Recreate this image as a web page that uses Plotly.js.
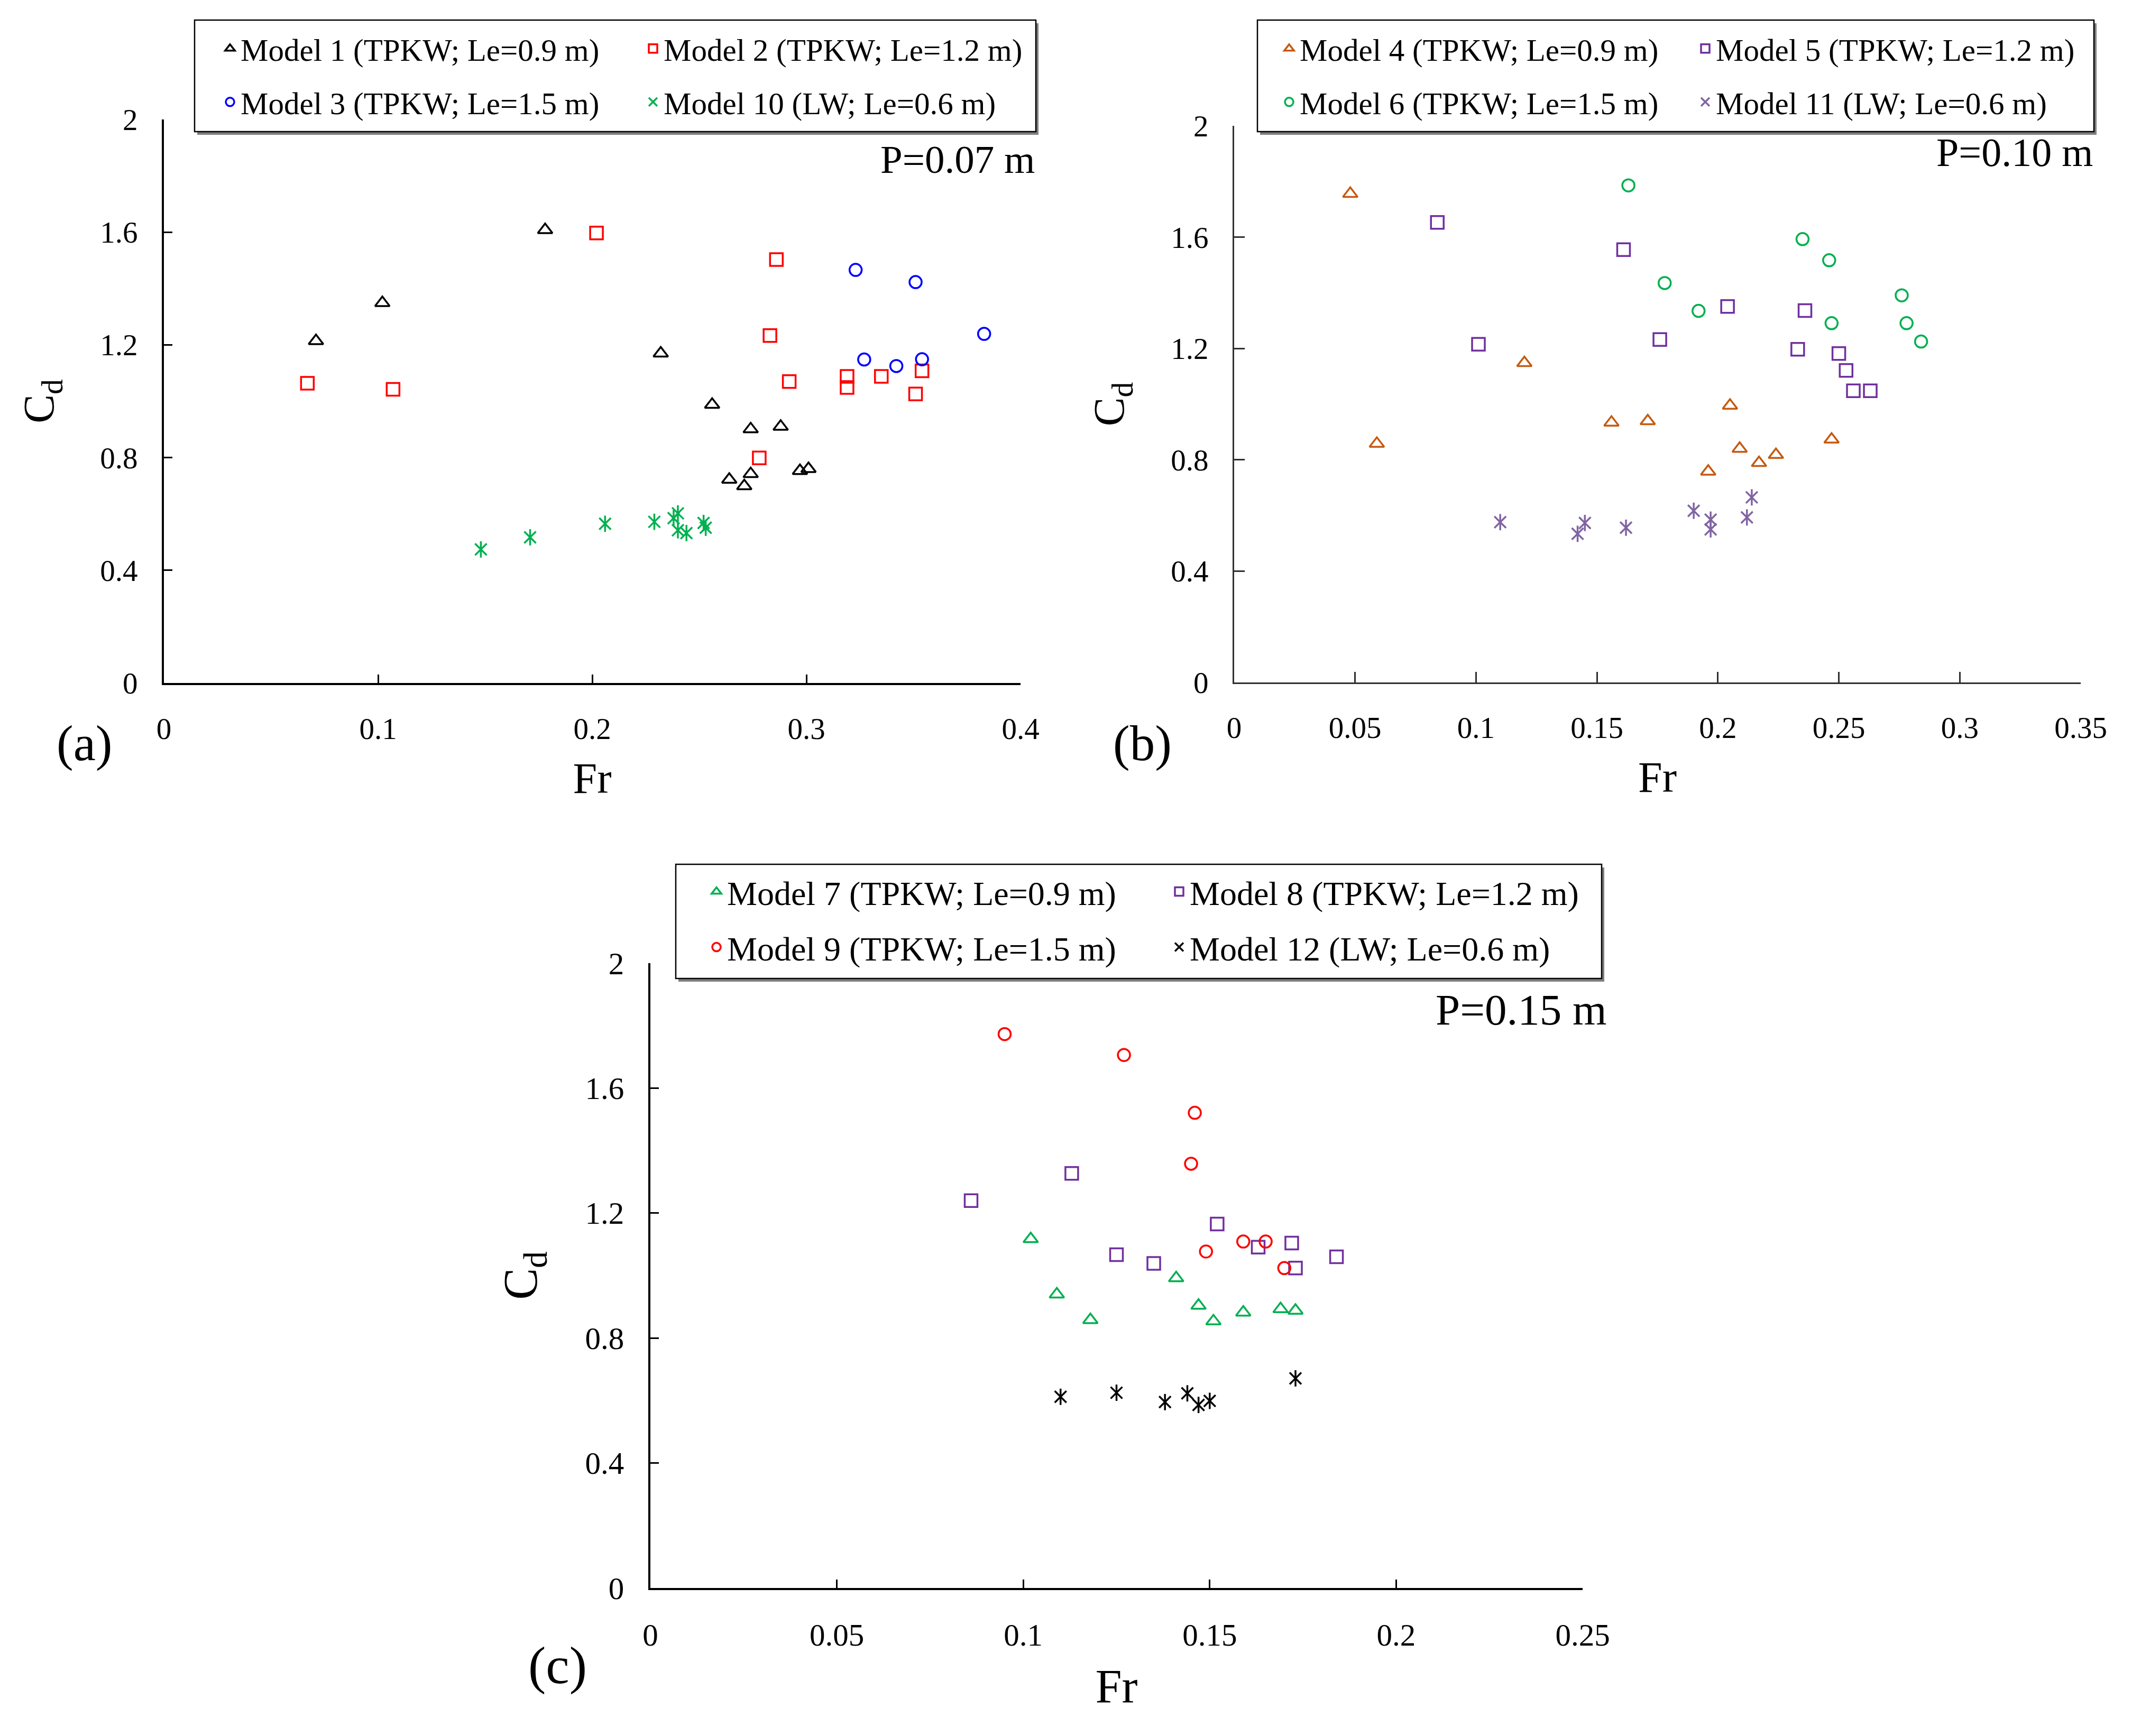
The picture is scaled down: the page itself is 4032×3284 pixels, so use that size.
<!DOCTYPE html>
<html>
<head>
<meta charset="utf-8">
<script src="https://cdn.plot.ly/plotly-3.0.1.min.js"></script>
<style>
    html, body { margin: 0; padding: 0; background: #ffffff; }
    #chart { width: 4032px; height: 3284px; }
</style>
</head>
<body>
<div id="chart"></div>
<script>
// ---- values (Fr, Cd) ----
// (a) P = 0.07 m
const m1Fr = [0.071, 0.102, 0.178, 0.232, 0.256, 0.274, 0.288, 0.264, 0.271, 0.274, 0.297, 0.301];
const m1Cd = [1.214, 1.349, 1.608, 1.170, 0.988, 0.901, 0.910, 0.722, 0.699, 0.742, 0.753, 0.760];
const m2Fr = [0.067, 0.107, 0.202, 0.286, 0.283, 0.292, 0.278, 0.319, 0.319, 0.335, 0.351, 0.354];
const m2Cd = [1.064, 1.042, 1.597, 1.503, 1.233, 1.070, 0.799, 1.088, 1.049, 1.088, 1.026, 1.108];
const m3Fr = [0.323, 0.351, 0.383, 0.327, 0.342, 0.354];
const m3Cd = [1.466, 1.423, 1.239, 1.148, 1.125, 1.149];
const m10Fr = [0.148, 0.171, 0.206, 0.229, 0.238, 0.240, 0.240, 0.244, 0.252, 0.253];
const m10Cd = [0.474, 0.517, 0.565, 0.572, 0.585, 0.602, 0.542, 0.532, 0.568, 0.551];

// (b) P = 0.10 m
const m4Fr = [0.048, 0.059, 0.120, 0.156, 0.171, 0.205, 0.209, 0.217, 0.224, 0.196, 0.247];
const m4Cd = [1.756, 0.858, 1.148, 0.934, 0.939, 0.995, 0.840, 0.789, 0.818, 0.758, 0.873];
const m5Fr = [0.084, 0.101, 0.161, 0.176, 0.204, 0.236, 0.233, 0.250, 0.253, 0.256, 0.263];
const m5Cd = [1.653, 1.215, 1.555, 1.232, 1.351, 1.336, 1.197, 1.182, 1.121, 1.048, 1.048];
const m6Fr = [0.163, 0.178, 0.192, 0.235, 0.246, 0.247, 0.276, 0.278, 0.284];
const m6Cd = [1.786, 1.435, 1.335, 1.593, 1.517, 1.291, 1.391, 1.291, 1.225];
const m11Fr = [0.110, 0.142, 0.145, 0.162, 0.190, 0.197, 0.197, 0.212, 0.214];
const m11Cd = [0.576, 0.534, 0.573, 0.556, 0.617, 0.585, 0.550, 0.593, 0.665];

// (c) P = 0.15 m
const m7Fr = [0.102, 0.109, 0.118, 0.141, 0.147, 0.151, 0.159, 0.169, 0.173];
const m7Cd = [1.117, 0.940, 0.858, 0.992, 0.904, 0.854, 0.882, 0.893, 0.888];
const m8Fr = [0.086, 0.113, 0.125, 0.135, 0.152, 0.163, 0.172, 0.173, 0.184];
const m8Cd = [1.240, 1.327, 1.067, 1.039, 1.165, 1.091, 1.104, 1.024, 1.060];
const m9Fr = [0.095, 0.127, 0.146, 0.145, 0.149, 0.159, 0.165, 0.170];
const m9Cd = [1.773, 1.706, 1.521, 1.358, 1.077, 1.109, 1.109, 1.024];
const m12Fr = [0.110, 0.125, 0.138, 0.144, 0.147, 0.150, 0.173];
const m12Cd = [0.612, 0.625, 0.595, 0.623, 0.586, 0.599, 0.671];

// tick values and labels
const frTicksA = [0, 0.1, 0.2, 0.3, 0.4];
const frLabelsA = ['0', '0.1', '0.2', '0.3', '0.4'];
const frTicksB = [0, 0.05, 0.1, 0.15, 0.2, 0.25, 0.3, 0.35];
const frLabelsB = ['0', '0.05', '0.1', '0.15', '0.2', '0.25', '0.3', '0.35'];
const frTicksC = [0, 0.05, 0.1, 0.15, 0.2, 0.25];
const frLabelsC = ['0', '0.05', '0.1', '0.15', '0.2', '0.25'];
const cdTicks = [0, 0.4, 0.8, 1.2, 1.6, 2];
const cdLabels = ['0', '0.4', '0.8', '1.2', '1.6', '2'];

const panelTags = ['(a)', '(b)', '(c)'];
const depthLabels = ['P=0.07 m', 'P=0.10 m', 'P=0.15 m'];

// ---- page geometry (pixels of the 4032 x 3284 canvas) ----
const W = 4032, H = 3284;
const px = x => x / W;
const py = y => 1 - y / H;
const serif = '"Liberation Serif", "Times New Roman", serif';

// colours used in the figure
const BLACK = '#000000', RED = '#ff0000', BLUE = '#0000ff', GREEN = '#00b050';
const BROWN = '#c55a11', PURPLE = '#7030a0', LAVENDER = '#8064a2';

// one entry per model: panel, column and row inside its legend box
const series = [
    {name: 'Model 1 (TPKW; Le=0.9 m)', x: m1Fr, y: m1Cd, color: BLACK, sym: 'tri', p: 0, col: 0, row: 0},
    {name: 'Model 2 (TPKW; Le=1.2 m)', x: m2Fr, y: m2Cd, color: RED, sym: 'sq', p: 0, col: 1, row: 0},
    {name: 'Model 3 (TPKW; Le=1.5 m)', x: m3Fr, y: m3Cd, color: BLUE, sym: 'ci', p: 0, col: 0, row: 1},
    {name: 'Model 10 (LW; Le=0.6 m)', x: m10Fr, y: m10Cd, color: GREEN, sym: 'st', p: 0, col: 1, row: 1},
    {name: 'Model 4 (TPKW; Le=0.9 m)', x: m4Fr, y: m4Cd, color: BROWN, sym: 'tri', p: 1, col: 0, row: 0},
    {name: 'Model 5 (TPKW; Le=1.2 m)', x: m5Fr, y: m5Cd, color: PURPLE, sym: 'sq', p: 1, col: 1, row: 0},
    {name: 'Model 6 (TPKW; Le=1.5 m)', x: m6Fr, y: m6Cd, color: GREEN, sym: 'ci', p: 1, col: 0, row: 1},
    {name: 'Model 11 (LW; Le=0.6 m)', x: m11Fr, y: m11Cd, color: LAVENDER, sym: 'st', p: 1, col: 1, row: 1},
    {name: 'Model 7 (TPKW; Le=0.9 m)', x: m7Fr, y: m7Cd, color: GREEN, sym: 'tri', p: 2, col: 0, row: 0},
    {name: 'Model 8 (TPKW; Le=1.2 m)', x: m8Fr, y: m8Cd, color: PURPLE, sym: 'sq', p: 2, col: 1, row: 0},
    {name: 'Model 9 (TPKW; Le=1.5 m)', x: m9Fr, y: m9Cd, color: RED, sym: 'ci', p: 2, col: 0, row: 1},
    {name: 'Model 12 (LW; Le=0.6 m)', x: m12Fr, y: m12Cd, color: BLACK, sym: 'st', p: 2, col: 1, row: 1}
];

const symbols = {
    tri: {symbol: 'triangle-up-open', size: 24},
    sq: {symbol: 'square-open', size: 24},
    ci: {symbol: 'circle-open', size: 23},
    st: {symbol: 'x-thin-open', size: 22}
};

// panel boxes, legend boxes and text spots
const panels = [
    {plot: [310, 1930, 226, 1292], box: [368, 1959, 38, 249], cols: [455, 1255], rows: [92, 193],
     legFont: 59, tickFont: 57, titleFont: 82, line: 4, tickLen: 16, color: BLACK,
     depth: [1959, 301, 75], tag: [159, 1406, 95]},
    {plot: [2334, 3935, 238, 1291], box: [2378, 3960, 38, 249], cols: [2458, 3245], rows: [92, 193],
     legFont: 59, tickFont: 57, titleFont: 82, line: 3, tickLen: 20, color: '#303030',
     depth: [3960, 288, 76], tag: [2160, 1406, 95]},
    {plot: [1230, 2993, 1822, 3004], box: [1278, 3029, 1635, 1851], cols: [1375, 2250], rows: [1687, 1792],
     legFont: 64, tickFont: 59, titleFont: 90, line: 4, tickLen: 16, color: BLACK,
     depth: [3041, 1910, 83], tag: [1054, 3150, 100]}
];
const frTicks = [[frTicksA, frLabelsA], [frTicksB, frLabelsB], [frTicksC, frLabelsC]];
const frRanges = [[0, 0.4], [0, 0.35], [0, 0.25]];

const data = [];
const layout = {
    width: W, height: H,
    margin: {l: 0, r: 0, t: 0, b: 0},
    paper_bgcolor: '#ffffff',
    plot_bgcolor: 'rgba(0,0,0,0)',
    font: {family: serif, color: '#000000'},
    showlegend: true,
    annotations: [],
    shapes: []
};

series.forEach((s, i) => {
    const suffix = s.p === 0 ? '' : String(s.p + 1);
    const legId = i === 0 ? 'legend' : 'legend' + (i + 1);
    const mk = symbols[s.sym];
    data.push({
        type: 'scatter', mode: 'markers', name: s.name,
        x: s.x, y: s.y, xaxis: 'x' + suffix, yaxis: 'y' + suffix, legend: legId,
        marker: {symbol: mk.symbol, size: mk.size, color: s.color, line: {color: s.color, width: 3.5}},
        hoverinfo: 'x+y+name'
    });
    if (s.sym === 'st') {
        // vertical bar that turns the X into the six-armed star of the figure
        data.push({
            type: 'scatter', mode: 'markers', name: s.name, showlegend: false,
            x: s.x, y: s.y, xaxis: 'x' + suffix, yaxis: 'y' + suffix, legend: legId,
            marker: {symbol: 'line-ns-open', size: mk.size, color: s.color, line: {color: s.color, width: 3.5}},
            hoverinfo: 'skip'
        });
    }
    const pn = panels[s.p];
    layout[legId] = {
        x: px(pn.cols[s.col] - 40), xanchor: 'left',
        y: py(pn.rows[s.row]), yanchor: 'middle',
        bgcolor: 'rgba(0,0,0,0)', borderwidth: 0,
        font: {family: serif, size: pn.legFont, color: '#000000'},
        itemclick: false, itemdoubleclick: false
    };
});

panels.forEach((pn, k) => {
    const suffix = k === 0 ? '' : String(k + 1);
    const common = {
        showline: true, linecolor: pn.color, linewidth: pn.line,
        ticks: 'inside', ticklen: pn.tickLen, tickwidth: 3, tickcolor: pn.color,
        showgrid: false, zeroline: false, fixedrange: true,
        tickfont: {family: serif, size: pn.tickFont, color: '#000000'},
        ticklabelstandoff: 34
    };
    layout['xaxis' + suffix] = Object.assign({}, common, {
        domain: [px(pn.plot[0]), px(pn.plot[1])],
        anchor: 'y' + suffix, range: frRanges[k],
        tickmode: 'array', tickvals: frTicks[k][0], ticktext: frTicks[k][1],
        title: {text: 'Fr', font: {family: serif, size: pn.titleFont, color: '#000000'}, standoff: 34}
    });
    layout['yaxis' + suffix] = Object.assign({}, common, {
        domain: [py(pn.plot[3]), py(pn.plot[2])],
        anchor: 'x' + suffix, range: [0, 2],
        tickmode: 'array', tickvals: cdTicks, ticktext: cdLabels,
        title: {text: 'C<sub>d</sub>', font: {family: serif, size: pn.titleFont, color: '#000000'}, standoff: 62}
    });

    // legend frame with its drop shadow
    const b = pn.box;
    layout.shapes.push({type: 'rect', xref: 'paper', yref: 'paper', layer: 'below',
        x0: px(b[0] + 5), x1: px(b[1] + 5), y0: py(b[3] + 6), y1: py(b[2] + 6),
        fillcolor: '#7f7f7f', line: {width: 0}});
    layout.shapes.push({type: 'rect', xref: 'paper', yref: 'paper', layer: 'below',
        x0: px(b[0]), x1: px(b[1]), y0: py(b[3]), y1: py(b[2]),
        fillcolor: '#ffffff', line: {color: '#000000', width: 2.5}});

    layout.annotations.push({
        text: depthLabels[k], xref: 'paper', yref: 'paper', showarrow: false,
        x: px(pn.depth[0]), y: py(pn.depth[1]), xanchor: 'right', yanchor: 'middle',
        font: {family: serif, size: pn.depth[2], color: '#000000'}
    });
    layout.annotations.push({
        text: panelTags[k], xref: 'paper', yref: 'paper', showarrow: false,
        x: px(pn.tag[0]), y: py(pn.tag[1]), xanchor: 'center', yanchor: 'middle',
        font: {family: serif, size: pn.tag[2], color: '#000000'}
    });
});

Plotly.newPlot('chart', data, layout, {staticPlot: true, displayModeBar: false});
</script>
</body>
</html>
